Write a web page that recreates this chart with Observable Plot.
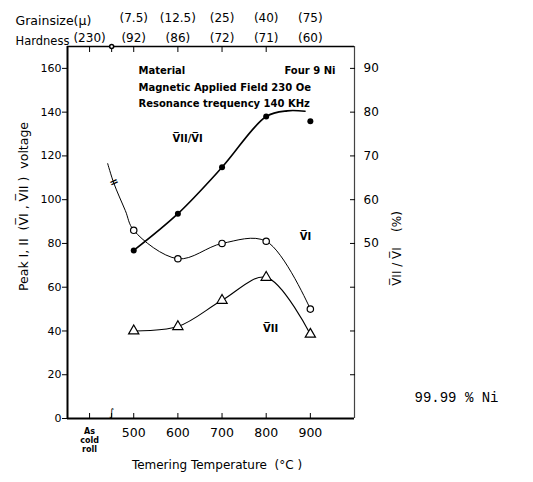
<!DOCTYPE html>
<html><head><meta charset="utf-8">
<script src="https://cdn.jsdelivr.net/npm/d3@7"></script>
<script src="https://cdn.jsdelivr.net/npm/@observablehq/plot@0.6"></script>
<style>body{margin:0;background:#fff}</style>
</head><body><div id="chart"></div>
<script>
// ---- data ----
const temps = [500, 600, 700, 800, 900];
const vI = [86, 73, 80, 81, 50];            // open circles, left axis
const vII = [40, 42, 54, 64.5, 38.5];       // triangles, left axis
const ratioPct = [48.4, 56.8, 67.4, 79, 77.9]; // filled dots, right axis (%)
const vILeadT = [441, 455, 481];            // V_I curve coming from the as-rolled state
const vILeadV = [116.5, 107.5, 95];
const ratioTailT = [848, 888];              // end of the drawn ratio curve
const ratioTailPct = [80.3, 80.2];

const grainLabels = ["(7.5)", "(12.5)", "(25)", "(40)", "(75)"];
const hardTicks = [400, 500, 600, 700, 800, 900];
const hardLabels = ["(230)", "(92)", "(86)", "(72)", "(71)", "(60)"];
const leftTicks = [0, 20, 40, 60, 80, 100, 120, 140, 160];
const rightTicks = [20, 30, 40, 50, 60, 70, 80, 90];
const rightLabelMin = 50;
const bottomTicks = [400, 450, 500, 600, 700, 800, 900];
const topTicks = [400, 450, 500, 600, 700, 800];
const bottomLabelMin = 500;

const seriesLabels = ["V\u0305II/V\u0305I", "V\u0305I", "V\u0305II"];
const seriesLabelT = [622, 889, 810];
const seriesLabelV = [128, 83, 41];

// ---- tables ----
const toLeft = p => 2 * (p - 10);          // right axis % -> left axis units
const vIMain = temps.map((t, i) => ({t, v: vI[i]}));
const vILine = vILeadT.map((t, i) => ({t, v: vILeadV[i]})).concat(vIMain);
const vIIData = temps.map((t, i) => ({t, v: vII[i]}));
const ratioData = temps.map((t, i) => ({t, p: ratioPct[i]}));
const ratioLine = ratioData.slice(0, 4).concat(ratioTailT.map((t, i) => ({t, p: ratioTailPct[i]})));
const labels = seriesLabels.map((s, i) => ({s, t: seriesLabelT[i], v: seriesLabelV[i]}));
const grainMap = new Map(temps.map((t, i) => [t, grainLabels[i]]));
const hardMap = new Map(hardTicks.map((t, i) => [t, hardLabels[i]]));

const font = "DejaVu Sans";

const chart = Plot.plot({
  width: 533, height: 482,
  marginLeft: 67, marginRight: 179, marginTop: 46, marginBottom: 64,
  x: {domain: [350, 1000]},
  y: {domain: [0, 170]},
  style: {fontFamily: font, background: "white", color: "black"},
  marks: [
    // frame
    Plot.ruleX([350], {strokeWidth: 2}),
    Plot.ruleY([0], {strokeWidth: 2}),
    Plot.ruleY([170], {strokeWidth: 1.6}),
    Plot.ruleX([1000], {strokeWidth: 1.2, stroke: "#444"}),
    // axes
    Plot.axisY({anchor: "left", ticks: leftTicks, tickSize: 5, tickPadding: 1, fontSize: 11, label: null}),
    Plot.axisY({anchor: "right", ticks: rightTicks.map(toLeft), tickSize: 5, dx: -5, tickPadding: 9,
      tickFormat: d => (d / 2 + 10) >= rightLabelMin ? String(d / 2 + 10) : "", fontSize: 12, label: null}),
    Plot.axisX({anchor: "bottom", ticks: bottomTicks, tickSize: 5, dy: -5, tickPadding: 10,
      tickFormat: d => d >= bottomLabelMin ? String(d) : "", fontSize: 12.5, label: null}),
    Plot.axisX({anchor: "top", ticks: topTicks, tickSize: 5, dy: 5, tickFormat: () => "", label: null}),
    Plot.axisX({anchor: "top", ticks: hardTicks, tickSize: 0, tickPadding: 5,
      tickFormat: d => hardMap.get(d), fontSize: 12, label: null}),
    Plot.axisX({anchor: "top", ticks: temps, tickSize: 0, tickPadding: 5, dy: -20,
      tickFormat: d => grainMap.get(d), fontSize: 12, label: null}),
    Plot.text(["Grainsize(\u03bc)"], {frameAnchor: "top-left", dx: -52, dy: -30, textAnchor: "start", fontSize: 12.5, letterSpacing: 0.6}),
    Plot.text(["Hardness"], {frameAnchor: "top-left", dx: -52, dy: -10, textAnchor: "start", fontSize: 11.5, letterSpacing: -0.3}),
    // axis breaks
    Plot.text(["\u222b"], {x: [450], frameAnchor: "bottom", dy: -3, fontSize: 10}),
    Plot.dot([450], {x: d => d, frameAnchor: "top", r: 2, fill: "white", stroke: "black"}),
    Plot.text(["As\ncold\nroll"], {x: [400], frameAnchor: "bottom", dy: 9, lineAnchor: "top", textAnchor: "middle", fontSize: 8, lineHeight: 1.15, fontWeight: "bold"}),
    // curves
    Plot.line(vILine, {x: "t", y: "v", curve: "catmull-rom", strokeWidth: 1}),
    Plot.line(vIIData, {x: "t", y: "v", curve: "catmull-rom", strokeWidth: 1.1}),
    Plot.line(ratioLine, {x: "t", y: d => toLeft(d.p), curve: "catmull-rom", strokeWidth: 1.6}),
    Plot.text(["="], {x: [455], y: [108], rotate: -25, fontSize: 11, fontWeight: "bold"}),
    Plot.dot(vIMain, {x: "t", y: "v", r: 3.2, fill: "white", stroke: "black", strokeWidth: 1.2}),
    Plot.dot(vIIData, {x: "t", y: "v", symbol: "triangle", r: 3.8, fill: "white", stroke: "black", strokeWidth: 1.2}),
    Plot.dot(ratioData, {x: "t", y: d => toLeft(d.p), r: 3, fill: "black"}),
    Plot.text(labels, {x: "t", y: "v", text: "s", fontSize: 10, fontWeight: "bold"}),
    // annotation block
    Plot.text(["Material"], {frameAnchor: "top-left", dx: 71, dy: 20, textAnchor: "start", fontSize: 10, fontWeight: "bold"}),
    Plot.text(["Four 9 Ni"], {frameAnchor: "top-left", dx: 268, dy: 20, textAnchor: "end", fontSize: 10, fontWeight: "bold"}),
    Plot.text(["Magnetic Applied Field 230 Oe"], {frameAnchor: "top-left", dx: 71, dy: 37, textAnchor: "start", fontSize: 10, fontWeight: "bold"}),
    Plot.text(["Resonance trequency 140 KHz"], {frameAnchor: "top-left", dx: 71, dy: 53, textAnchor: "start", fontSize: 10, fontWeight: "bold"}),
    // titles
    Plot.text(["Peak I, II  (V\u0305I , V\u0305II )  voltage"], {frameAnchor: "left", dx: -44, dy: -26, rotate: -90, textAnchor: "middle", fontSize: 12.5, letterSpacing: 1.6}),
    Plot.text(["V\u0305II / V\u0305I    (%)"], {frameAnchor: "right", dx: 43, dy: 16, rotate: -90, textAnchor: "middle", fontSize: 12, letterSpacing: 0.8}),
    Plot.text(["Temering Temperature  (\u00b0C )"], {frameAnchor: "bottom", dx: 6, dy: 50, textAnchor: "middle", fontSize: 12}),
    Plot.text(["99.99 % Ni"], {frameAnchor: "bottom-right", dx: 102, dy: -17, textAnchor: "middle", fontSize: 14, fontFamily: "Liberation Mono"})
  ]
});
document.getElementById("chart").appendChild(chart);
</script>
</body></html>
